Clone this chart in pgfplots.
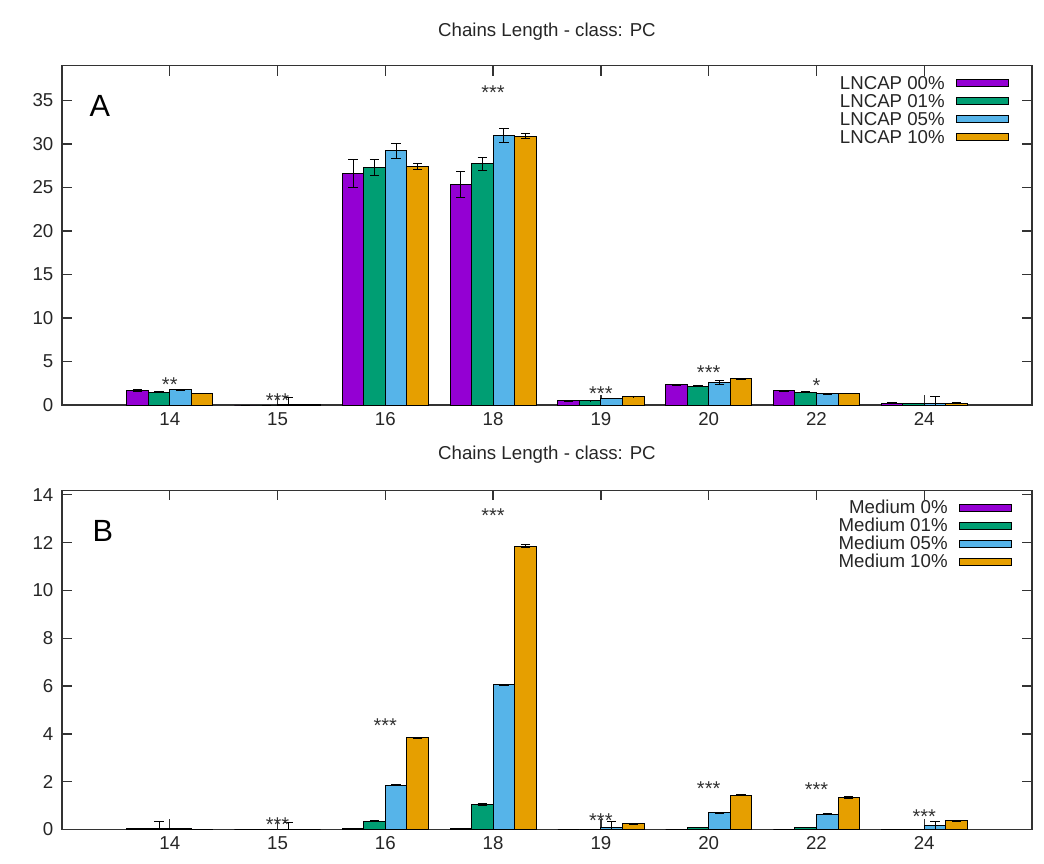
\documentclass[border=0pt]{standalone}
\usepackage{fontspec}
\setmainfont{Liberation Sans}
\usepackage{pgfplots}
\usepackage{pgfplotstable}
\pgfplotsset{compat=1.18}
\definecolor{cPurple}{HTML}{9400D3}
\definecolor{cGreen}{HTML}{009E73}
\definecolor{cBlue}{HTML}{56B4E9}
\definecolor{cOrange}{HTML}{E69F00}

% x: 0=14, 1=15, 2=16, 3=18, 4=19, 5=20, 6=22, 7=24
\pgfplotstableread{
x a    ea   b    eb   c    ec   d     ed
0 1.64 0.10 1.49 0.05 1.76 0.05 1.34  0.02
1 0    0    0    0    0.10 0.80 0.10  0
2 26.6 1.60 27.3 0.95 29.2 0.85 27.4  0.30
3 25.3 1.50 27.7 0.80 31.0 0.80 30.9  0.25
4 0.50 0.05 0.50 0.03 0.77 0.03 0.96  0.02
5 2.30 0.05 2.18 0.08 2.57 0.19 2.99  0.06
6 1.61 0.05 1.49 0.08 1.30 0.06 1.34  0.02
7 0.23 0.03 0.19 0.03 0.19 0.75 0.23  0.02
}\dataA

\pgfplotstableread{
x a    ea   b    eb   c    ec   d     ed
0 0.05 0    0.05 0.30 0.03 0    0     0
1 0    0    0    0    0    0.30 0     0
2 0.05 0    0.34 0.02 1.85 0.03 3.83  0.03
3 0.03 0    1.05 0.04 6.05 0.02 11.85 0.06
4 0    0    0    0    0.10 0.22 0.24  0.02
5 0    0    0.08 0    0.70 0.03 1.44  0.02
6 0    0    0.08 0    0.64 0.02 1.34  0.04
7 0.02 0    0    0    0.18 0.16 0.36  0.03
}\dataB

\tikzset{
  txt/.style={font=\fontsize{14}{16}\selectfont},
  star/.style={font=\fontsize{15}{16}\selectfont, black!80, anchor=center, inner sep=0pt, yshift=-3pt},
}
\pgfplotsset{
  panel/.style={
    scale only axis, width=727.5pt,
    ybar, bar width=0.2,
    xmin=-1, xmax=8, ymin=0,
    xtick={0,...,7}, xticklabels={14,15,16,18,19,20,22,24},
    tick align=inside, major tick length=7.5pt,
    axis line style={black!80, line width=1.1pt},
    every tick/.style={black!80, line width=1pt},
    ticklabel style={txt, black!85},
    /pgf/number format/assume math mode=true,
    yticklabel style={xshift=-3pt},
    xticklabel style={yshift=-2pt},
    title style={txt, black!85, at={(0.5,1)}, anchor=center},
    legend style={draw=none, fill=none, txt, text=black!85, anchor=north east,
      inner sep=0pt, outer sep=0pt, row sep=0pt,
      nodes={inner sep=1.25pt, text height=10pt, text depth=1pt}},
    legend cell align=right, legend plot pos=right,
    error bars/y dir=both, error bars/y explicit,
    error bars/error bar style={black, line width=0.75pt},
    error bars/error mark options={rotate=90, mark size=3.5pt, black, line width=0.75pt},
  },
  bb/.style={draw=black, line width=0.75pt, fill=#1,
    legend image code/.code={\path (0pt,0pt); \draw[fill=#1, draw=black, line width=0.75pt] (7pt,-2.6pt) rectangle (46pt,2.6pt);}},
}

\begin{document}
\begin{tikzpicture}
\path (0,0) rectangle (783pt,-647.25pt);

% Panel A
\begin{axis}[panel, at={(46.5pt,-303.75pt)}, anchor=south west,
  height=254.5pt, ymax=39, ytick={0,5,...,35},
  title={Chains Length - class: PC}, title style={yshift=19.3pt},
  legend style={at={(rel axis cs:0.976,0.975)}}]
\addplot[bb=cPurple, bar shift=-0.3] table[x=x, y=a, y error=ea]{\dataA};
\addplot[bb=cGreen, bar shift=-0.1] table[x=x, y=b, y error=eb]{\dataA};
\addplot[bb=cBlue, bar shift=0.1] table[x=x, y=c, y error=ec]{\dataA};
\addplot[bb=cOrange, bar shift=0.3] table[x=x, y=d, y error=ed]{\dataA};
\legend{LNCAP 00\%, LNCAP 01\%, LNCAP 05\%, LNCAP 10\%}
\node[star] at (axis cs:0,2.8) {**};
\node[star] at (axis cs:1,0.95) {***};
\node[star] at (axis cs:3,36.4) {***};
\node[star] at (axis cs:4,1.8) {***};
\node[star] at (axis cs:5,4.13) {***};
\node[star] at (axis cs:6,2.68) {*};
\node[font=\fontsize{23}{26}\selectfont, black] at (rel axis cs:0.039,0.882) {A};
\end{axis}

% Panel B
\begin{axis}[panel, at={(46.5pt,-622.1pt)}, anchor=south west,
  height=254.25pt, ymax=14.18, ytick={0,2,...,14},
  title={Chains Length - class: PC}, title style={yshift=20.6pt},
  legend style={at={(rel axis cs:0.979,0.975)}}]
\addplot[bb=cPurple, bar shift=-0.3] table[x=x, y=a, y error=ea]{\dataB};
\addplot[bb=cGreen, bar shift=-0.1] table[x=x, y=b, y error=eb]{\dataB};
\addplot[bb=cBlue, bar shift=0.1] table[x=x, y=c, y error=ec]{\dataB};
\addplot[bb=cOrange, bar shift=0.3] table[x=x, y=d, y error=ed]{\dataB};
\legend{Medium 0\%, Medium 01\%, Medium 05\%, Medium 10\%}
\node[star] at (axis cs:1,0.38) {***};
\node[star] at (axis cs:2,4.5) {***};
\node[star] at (axis cs:3,13.28) {***};
\node[star] at (axis cs:4,0.55) {***};
\node[star] at (axis cs:5,1.88) {***};
\node[star] at (axis cs:6,1.82) {***};
\node[star] at (axis cs:7,0.69) {***};
\node[font=\fontsize{23}{26}\selectfont, black] at (rel axis cs:0.042,0.882) {B};
\end{axis}
\end{tikzpicture}
\end{document}
